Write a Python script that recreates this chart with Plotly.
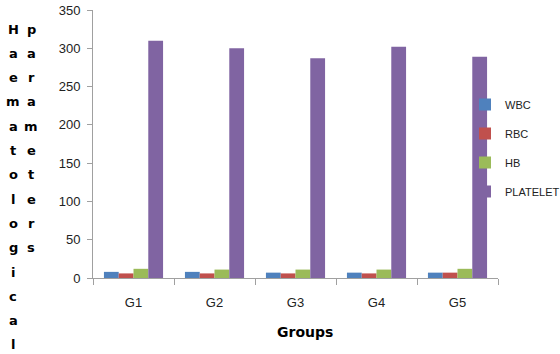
import plotly.graph_objects as go

groups = ["G1", "G2", "G3", "G4", "G5"]
wbc = [8, 8, 7, 7, 7]
rbc = [6, 6, 6, 6, 7]
hb = [12, 11, 11, 11, 12]
platelet = [310, 300, 287, 302, 289]
series_names = ["WBC", "RBC", "HB", "PLATELET"]
colors = ["#4F81BD", "#C0504D", "#9BBB59", "#8064A2"]
y_title_col1 = "Haematological"
y_title_col2 = "parameters"
x_title = "Groups"

W, H = 560, 354
L, R, T, B = 93, 62, 10, 76
plot_h = H - T - B
plot_w = W - L - R

fig = go.Figure()
for name, vals, col in zip(series_names, [wbc, rbc, hb, platelet], colors):
    fig.add_trace(go.Bar(x=groups, y=vals, name=name, marker_color=col,
                         marker_line_width=0, legendgroup=name))

tick_font = dict(family="Liberation Sans Narrow, Liberation Sans, Arial", size=13, color="#222222")

fig.update_layout(
    width=W, height=H,
    margin=dict(l=L, r=R, t=T, b=B, autoexpand=False),
    paper_bgcolor="white", plot_bgcolor="white",
    barmode="group", bargap=0.27, bargroupgap=0,
    showlegend=True,
    legend=dict(x=(465 - L) / plot_w, y=(278 - 90) / plot_h, xanchor="left", yanchor="top",
                font=dict(family="Liberation Sans, Arial", size=11, color="#222222"),
                tracegroupgap=10, itemwidth=30, bgcolor="rgba(0,0,0,0)"),
    xaxis=dict(showline=True, linecolor="#A0A0A0", linewidth=1, ticks="outside",
               tickson="boundaries", ticklen=6, tickcolor="#A0A0A0",
               tickfont=tick_font, ticklabelstandoff=12, showgrid=False, zeroline=False),
    yaxis=dict(range=[0, 350], dtick=50, showline=True, linecolor="#A0A0A0", linewidth=1,
               ticks="outside", ticklen=5, tickcolor="#A0A0A0", tickfont=tick_font,
               showgrid=False, zeroline=False, ticklabelstandoff=4),
)

letter_font = dict(family="DejaVu Sans, Liberation Sans, Arial", size=13, color="black", weight="bold")
def ypaper(ypix):
    return (H - B - ypix) / plot_h

ys = [29 + 24.3 * i for i in range(len(y_title_col1))]
for i, ch in enumerate(y_title_col1):
    fig.add_annotation(text=ch, xref="paper", yref="paper", x=(13 - L) / plot_w, y=ypaper(ys[i]),
                       showarrow=False, xanchor="center", yanchor="middle", font=letter_font)
for i, ch in enumerate(y_title_col2):
    fig.add_annotation(text=ch, xref="paper", yref="paper", x=(31 - L) / plot_w, y=ypaper(ys[i]),
                       showarrow=False, xanchor="center", yanchor="middle", font=letter_font)

fig.add_annotation(text=x_title, xref="paper", yref="paper", x=(305 - L) / plot_w, y=ypaper(332),
                   showarrow=False, xanchor="center", yanchor="middle",
                   font=dict(family="DejaVu Sans, Liberation Sans, Arial", size=14, color="black", weight="bold"))

fig.write_html("out.html")
